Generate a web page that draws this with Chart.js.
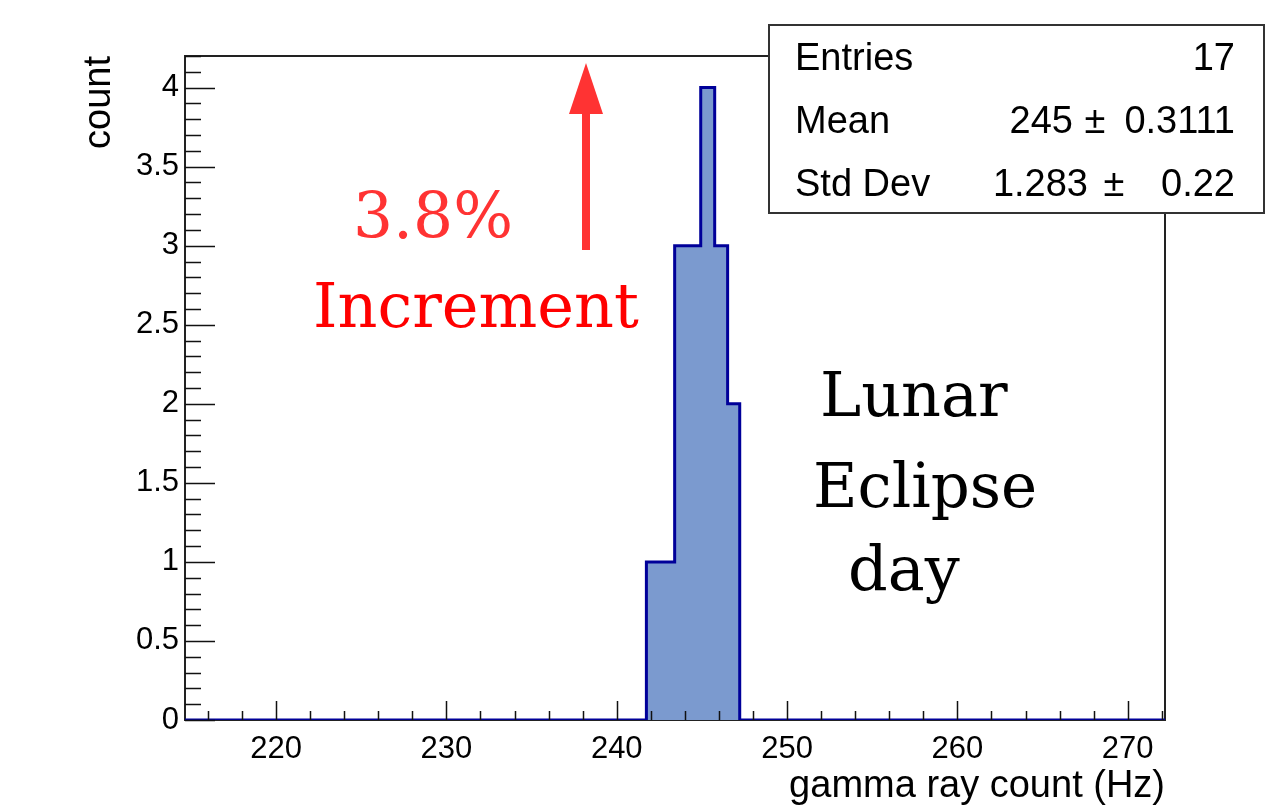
<!DOCTYPE html>
<html>
<head>
<meta charset="utf-8">
<script src="https://cdn.jsdelivr.net/npm/chart.js@4/dist/chart.umd.min.js"></script>
<style>
  html, body { margin: 0; padding: 0; background: #ffffff; }
  #wrap { width: 1271px; height: 806px; }
</style>
</head>
<body>
<div id="wrap"><canvas id="c" width="1271" height="806"></canvas></div>
<script>
// Histogram bin edges (Hz) and the counts in each bin
const binEdges = [241.74, 242.57, 243.40, 244.17, 244.93, 245.75, 246.51, 247.22];
const binCounts = [1, 1, 3, 3, 4, 3, 2];

// Axis range and labelled ticks
const xRange = [214.65, 272.19];
const yRange = [0, 4.2];
const xTickLabels = [220, 230, 240, 250, 260, 270];
const yTickLabels = [0, 0.5, 1, 1.5, 2, 2.5, 3, 3.5, 4];

// Statistics box rows
const statNames = ['Entries', 'Mean', 'Std Dev'];
const statValues = ['17', '245', '1.283'];
const statErrors = ['', '0.3111', '0.22'];

// Step outline of the histogram, running along zero outside the filled bins
function histogramPoints() {
  const pts = [{ x: xRange[0], y: 0 }, { x: binEdges[0], y: 0 }];
  binCounts.forEach((c, i) => {
    pts.push({ x: binEdges[i], y: c });
    pts.push({ x: binEdges[i + 1], y: c });
  });
  pts.push({ x: binEdges[binEdges.length - 1], y: 0 });
  pts.push({ x: xRange[1], y: 0 });
  return pts;
}

const SANS = '"Liberation Sans", Arial, Helvetica, sans-serif';
const SERIF = '"DejaVu Serif", serif';

// Frame drawn under the histogram, ROOT-style inward ticks drawn over it
const frameAndTicks = {
  id: 'frameAndTicks',
  beforeDatasetsDraw(chart) {
    const { ctx, chartArea: a } = chart;
    ctx.save();
    ctx.strokeStyle = '#222222';
    ctx.lineWidth = 2;
    ctx.strokeRect(a.left, a.top, a.right - a.left, a.bottom - a.top);
    ctx.restore();
  },
  afterDatasetsDraw(chart) {
    const { ctx, chartArea: a, scales: { x, y } } = chart;
    ctx.save();
    ctx.strokeStyle = '#111111';
    ctx.lineWidth = 1.5;
    ctx.beginPath();
    // x ticks: major every 10, minor every 2
    for (let v = 216; v <= xRange[1] + 1e-6; v += 2) {
      const px = Math.round(x.getPixelForValue(v)) + 0.5;
      const len = (v % 10 === 0) ? 19 : 9;
      ctx.moveTo(px, a.bottom);
      ctx.lineTo(px, a.bottom - len);
    }
    // y ticks: major every 0.5, minor every 0.1
    for (let k = 0; k <= 42; k++) {
      const v = k / 10;
      const py = Math.round(y.getPixelForValue(v)) + 0.5;
      const len = (k % 5 === 0) ? 30 : 16;
      ctx.moveTo(a.left, py);
      ctx.lineTo(a.left + len, py);
    }
    ctx.stroke();
    ctx.restore();
  },
  afterDraw(chart) {
    const { ctx, chartArea: a } = chart;
    ctx.save();

    // axis titles
    ctx.fillStyle = '#000000';
    ctx.font = '38px ' + SANS;
    ctx.textAlign = 'right';
    ctx.textBaseline = 'alphabetic';
    ctx.fillText('gamma ray count (Hz)', a.right, 797);
    ctx.save();
    ctx.translate(110, a.top);
    ctx.rotate(-Math.PI / 2);
    ctx.textAlign = 'right';
    ctx.font = '38px ' + SANS;
    ctx.fillText('count', 0, 0);
    ctx.restore();

    // statistics box
    ctx.fillStyle = '#ffffff';
    ctx.fillRect(769, 25, 495, 188);
    ctx.strokeStyle = '#333333';
    ctx.lineWidth = 2;
    ctx.strokeRect(769, 25, 495, 188);
    ctx.fillStyle = '#000000';
    ctx.font = '38px ' + SANS;
    const rowBase = [70, 133, 196];
    const pmX = [0, 1095, 1114];
    const valRight = [1235, 1073, 1088];
    statNames.forEach((n, i) => {
      ctx.textAlign = 'left';
      ctx.fillText(n, 795, rowBase[i]);
      ctx.textAlign = 'right';
      ctx.fillText(statValues[i], valRight[i], rowBase[i]);
      if (statErrors[i]) {
        ctx.textAlign = 'center';
        ctx.fillText('\u00b1', pmX[i], rowBase[i]);
        ctx.textAlign = 'right';
        ctx.fillText(statErrors[i], 1235, rowBase[i]);
      }
    });

    // red arrow
    ctx.fillStyle = '#ff3333';
    ctx.fillRect(582, 112, 8, 138);
    ctx.beginPath();
    ctx.moveTo(586, 63);
    ctx.lineTo(603, 114);
    ctx.lineTo(569, 114);
    ctx.closePath();
    ctx.fill();

    // annotations
    ctx.textAlign = 'left';
    ctx.font = '63px ' + SERIF;
    ctx.fillStyle = '#ff3333';
    ctx.fillText('3.8%', 353, 238);
    ctx.font = '62px ' + SERIF;
    ctx.fillStyle = '#ff0000';
    ctx.fillText('Increment', 313, 327);
    ctx.fillStyle = '#000000';
    ctx.fillText('Lunar', 820, 416);
    ctx.font = '61px ' + SERIF;
    ctx.fillText('Eclipse', 813, 507);
    ctx.font = '62px ' + SERIF;
    ctx.fillText('day', 848, 590);

    ctx.restore();
  }
};

new Chart(document.getElementById('c'), {
  type: 'line',
  data: {
    datasets: [{
      data: histogramPoints(),
      borderColor: '#000099',
      borderWidth: 3,
      backgroundColor: '#7b9acf',
      fill: 'origin',
      pointRadius: 0,
      tension: 0
    }]
  },
  options: {
    responsive: false,
    animation: false,
    devicePixelRatio: 1,
    layout: { padding: { top: 56, right: 106, left: 0, bottom: 0 } },
    plugins: { legend: { display: false }, tooltip: { enabled: false } },
    scales: {
      x: {
        type: 'linear',
        min: xRange[0],
        max: xRange[1],
        grid: { display: false, drawTicks: false },
        border: { display: false },
        afterBuildTicks: s => { s.ticks = xTickLabels.map(v => ({ value: v })); },
        afterFit: s => { s.height = 86; },
        ticks: {
          color: '#000000',
          padding: 11,
          maxRotation: 0,
          font: { family: SANS, size: 31 },
          callback: v => String(v)
        }
      },
      y: {
        type: 'linear',
        min: yRange[0],
        max: yRange[1],
        grid: { display: false, drawTicks: false },
        border: { display: false },
        afterBuildTicks: s => { s.ticks = yTickLabels.map(v => ({ value: v })); },
        afterFit: s => { s.width = 185; },
        ticks: {
          color: '#000000',
          padding: 6,
          font: { family: SANS, size: 31 },
          callback: v => String(v)
        }
      }
    }
  },
  plugins: [frameAndTicks]
});
</script>
</body>
</html>
